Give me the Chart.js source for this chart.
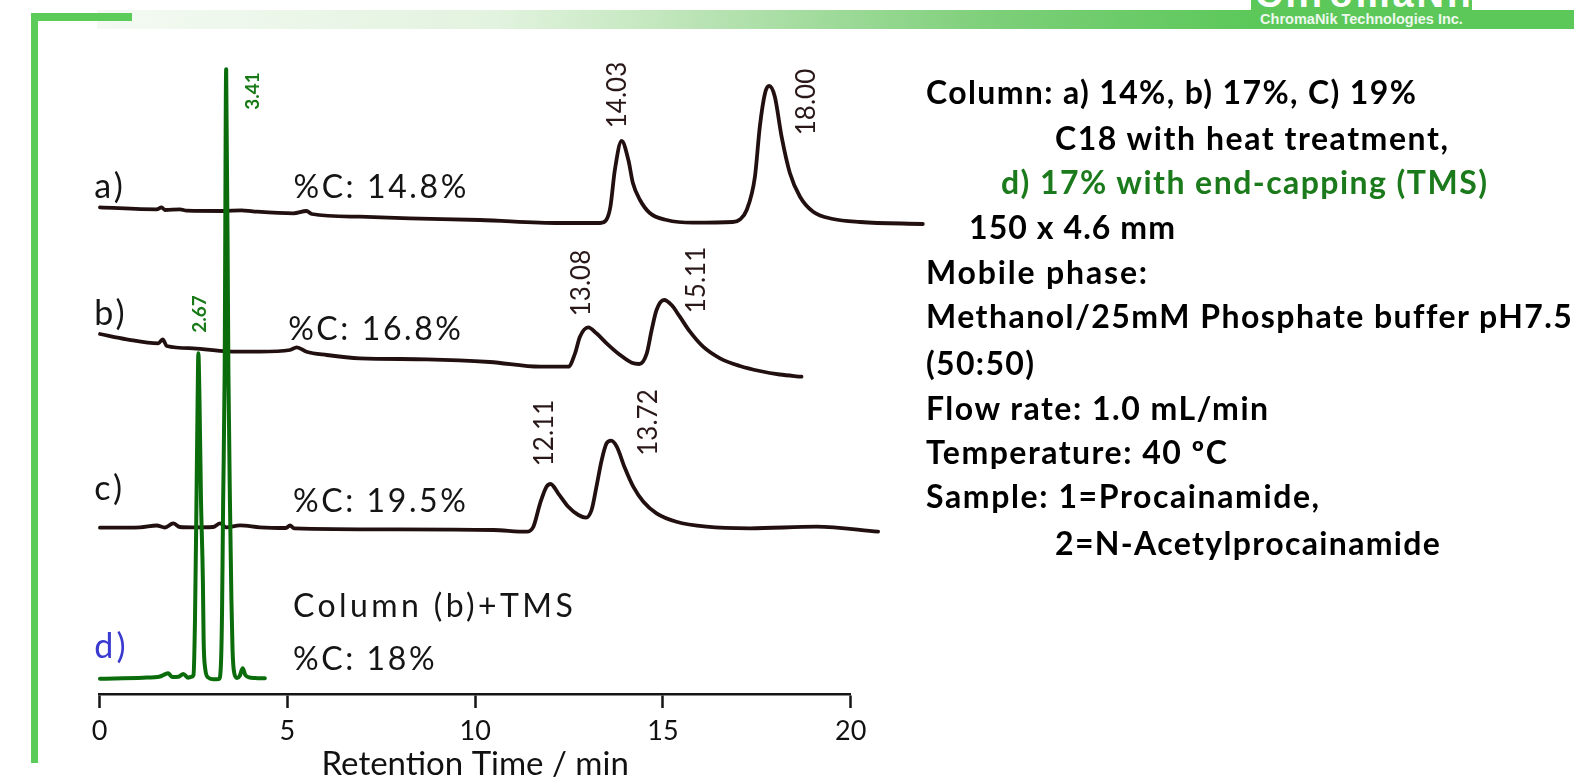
<!DOCTYPE html>
<html>
<head>
<meta charset="utf-8">
<title>Retention of procainamide on C18 columns</title>
<script src="https://cdn.jsdelivr.net/npm/chart.js@4.4.1/dist/chart.umd.min.js"></script>
<style>
  html, body { margin: 0; padding: 0; background: #fff; }
  body { width: 1574px; height: 781px; position: relative; overflow: hidden; font-family: Lato, sans-serif; }
  .grad { position: absolute; left: 97px; top: 10px; width: 1477px; height: 19px;
    background: linear-gradient(to right, #f4faf3 0%, #e2f3df 27%, #c6e8c1 37%, #b9e3b4 41%, #7ccf78 61%, #5cc85a 78%, #5cc85a 100%); }
  .bar-h { position: absolute; left: 31px; top: 13px; width: 101px; height: 8px; background: #5bcb59; }
  .bar-v { position: absolute; left: 31px; top: 13px; width: 7px; height: 750px; background: #5bcb59; }
  .logo { position: absolute; left: 1251px; top: 0; width: 221px; height: 29px; background: #5cc85a; overflow: hidden; }
  .logo .big { position: absolute; left: 4px; top: -27px; font: bold 38px "Liberation Sans", Arial, sans-serif; color: #fff; letter-spacing: 3px; }
  .logo .small { position: absolute; left: 0; top: 11px; width: 221px; text-align: center; font: bold 14.5px/17px "Liberation Sans", Arial, sans-serif; color: #eef8ee; }
  #wrap { position: absolute; left: 0; top: 0; }
  .info div { position: absolute; white-space: nowrap; font: 700 32px/28px Lato, sans-serif; color: #000; }
</style>
</head>
<body>
<div class="grad"></div>
<div class="bar-h"></div>
<div class="bar-v"></div>
<div class="logo"><span class="big">ChromaNik</span><span class="small">ChromaNik Technologies Inc.</span></div>

<div id="wrap"><canvas id="chart" width="1574" height="781"></canvas></div>

<!-- data-w: width of each line in the original slide, used to fit the spacing -->
<div class="info">
  <div data-w="490" style="left:926px;top:78px">Column: a) 14%, b) 17%, C) 19%</div>
  <div data-w="393" style="left:1055px;top:124px">C18 with heat treatment,</div>
  <div data-w="486" style="left:1001px;top:168px;color:#1b7a1b">d) 17% with end-capping (TMS)</div>
  <div data-w="206" style="left:969px;top:213px">150 x 4.6 mm</div>
  <div data-w="221" style="left:926px;top:258px">Mobile phase:</div>
  <div data-w="645" style="left:926px;top:302px">Methanol/25mM Phosphate buffer pH7.5</div>
  <div data-w="108" style="left:926px;top:349px">(50:50)</div>
  <div data-w="342" style="left:926px;top:394px">Flow rate: 1.0 mL/min</div>
  <div data-w="301" style="left:926px;top:438px">Temperature: 40 ºC</div>
  <div data-w="393" style="left:926px;top:482px">Sample: 1=Procainamide,</div>
  <div data-w="385" style="left:1055px;top:529px">2=N-Acetylprocainamide</div>
</div>

<script>
// retention time (min) and detector signal, traces stacked with an offset
const aTime = [0.01, 1.52, 1.65, 1.74, 2.14, 2.32, 3.29, 3.78, 4.08, 5.16, 5.51, 5.65, 6.93, 8.26, 10.13, 12.26, 13.33, 13.49, 13.60, 13.72, 13.90, 14.08, 14.20, 14.39, 14.65, 15.10, 15.80, 16.86, 17.05, 17.23, 17.45, 17.58, 17.72, 17.83, 17.98, 18.16, 18.38, 18.65, 19.00, 19.53, 20.25, 21.92];
const aSignal = [486.7, 484.7, 486.7, 484, 484.7, 483.3, 483, 483.7, 482.7, 480.7, 483, 480, 477.3, 475.7, 474, 471, 471, 474, 487, 524, 553, 534, 511, 494, 481, 474, 471.3, 472, 474.5, 484, 517.3, 567.3, 601, 608, 597.3, 557.3, 521, 497.3, 482.3, 475, 472, 470];

const bTime = [0.01, 0.72, 1.56, 1.68, 1.79, 2.49, 3.38, 4.27, 5.07, 5.25, 5.51, 6.05, 6.93, 8.71, 10.39, 11.73, 12.48, 12.66, 12.79, 13.01, 13.23, 13.50, 13.86, 14.17, 14.37, 14.57, 14.70, 14.83, 15.03, 15.23, 15.45, 15.72, 16.07, 16.52, 17.05, 17.58, 18.11, 18.69];
const bSignal = [360, 354.7, 350.7, 354.5, 348, 345.7, 342.7, 342.3, 344, 346.7, 342.3, 339, 335.7, 334.7, 332, 327.3, 327.3, 340.7, 357.3, 366.7, 360.7, 350.7, 339, 331.3, 330, 340.7, 364, 384, 394, 389, 377.3, 362.3, 347.3, 335.7, 328, 323, 319.5, 317.3];

const cTime = [0.01, 1.08, 1.52, 1.74, 1.96, 2.14, 2.49, 3.02, 3.21, 3.37, 3.74, 4.27, 4.96, 5.07, 5.18, 7.82, 10.48, 11.37, 11.55, 11.73, 11.90, 12.01, 12.21, 12.48, 12.75, 12.95, 13.10, 13.23, 13.37, 13.50, 13.62, 13.77, 13.99, 14.21, 14.48, 14.83, 15.36, 16.16, 17.32, 19.09, 20.73];
const cSignal = [166.3, 166.7, 168.5, 166.5, 170.7, 167, 166.7, 167, 170.7, 166.7, 168.7, 166.7, 166, 168.5, 165.7, 164.7, 164, 162.3, 167.3, 190.7, 207.3, 210, 200.7, 187.3, 179, 176.3, 184, 207.3, 234, 250.7, 253.3, 247.3, 225.7, 207.3, 192.3, 180.7, 172.3, 167.3, 165.7, 167.3, 162.3];

const dTime = [0.01, 1.16, 1.61, 1.70, 1.83, 1.93, 2.10, 2.23, 2.36, 2.45, 2.50, 2.54, 2.58, 2.61, 2.63, 2.66, 2.70, 2.75, 2.77, 2.81, 2.89, 3.02, 3.18, 3.23, 3.26, 3.29, 3.33, 3.37, 3.43, 3.47, 3.51, 3.54, 3.58, 3.66, 3.73, 3.81, 3.88, 3.98, 4.14, 4.40];
const dSignal = [15.3, 16.3, 17.5, 19, 20.7, 17, 17.3, 20, 16.3, 17.3, 19, 74, 194, 294, 340.7, 294, 194, 114, 54, 26, 16.5, 14.7, 15, 29, 81, 194, 321, 624.7, 321, 194, 94, 44, 22, 16, 18, 25.7, 19, 16.7, 16, 15.7];

const xTickValues = [0, 5, 10, 15, 20];

const brown = '#221010';
const green = '#0b6c0b';
const traceFont = '400 32px Lato';
const peakFont = '400 26px Lato';
const greenFont = 'bold 19px Lato';

// text drawn on the plot, anchored in data units (time, signal)
const notes = [
    { text: 'a)', t: -0.14, v: 496, font: '400 34px Lato', color: '#151515', spacing: '3px' },
    { text: 'b)', t: -0.14, v: 369, font: '400 34px Lato', color: '#151515', spacing: '3px' },
    { text: 'c)', t: -0.14, v: 194, font: '400 34px Lato', color: '#151515', spacing: '3px' },
    { text: 'd)', t: -0.14, v: 36, font: '400 34px Lato', color: '#3a3ad0', spacing: '3px' },
    { text: '%C: 14.8%', t: 5.16, v: 496, font: traceFont, color: '#151515', spacing: '2.6px' },
    { text: '%C: 16.8%', t: 5.02, v: 354, font: traceFont, color: '#151515', spacing: '2.6px' },
    { text: '%C: 19.5%', t: 5.15, v: 182.3, font: traceFont, color: '#151515', spacing: '2.6px' },
    { text: 'Column (b)+TMS', t: 5.15, v: 77, font: traceFont, color: '#151515', spacing: '3.4px' },
    { text: '%C: 18%', t: 5.15, v: 24, font: traceFont, color: '#151515', spacing: '2.6px' },
    { text: '14.03', t: 13.79, v: 599, font: peakFont, color: '#2a1818', rotate: true },
    { text: '18.00', t: 18.83, v: 592, font: peakFont, color: '#2a1818', rotate: true },
    { text: '13.08', t: 12.84, v: 411, font: peakFont, color: '#2a1818', rotate: true },
    { text: '15.11', t: 15.90, v: 414, font: peakFont, color: '#2a1818', rotate: true },
    { text: '12.11', t: 11.86, v: 261, font: peakFont, color: '#2a1818', rotate: true },
    { text: '13.72', t: 14.61, v: 271.5, font: peakFont, color: '#2a1818', rotate: true },
    { text: '3.41', t: 4.07, v: 603, font: greenFont, color: '#177a17', rotate: true },
    { text: '2.67', t: 2.665, v: 380, font: greenFont, color: '#177a17', rotate: true }
];

function toPoints(ts, vs) {
    return ts.map((t, i) => ({ x: t, y: vs[i] }));
}

// spread each info line so it spans the same width as in the slide
function fitInfoLines() {
    document.querySelectorAll('.info div').forEach(el => {
        el.style.letterSpacing = '0px';
        const natural = el.getBoundingClientRect().width;
        const n = el.textContent.length;
        el.style.letterSpacing = ((+el.dataset.w - natural) / (n - 1)).toFixed(2) + 'px';
    });
}
fitInfoLines();
if (document.fonts) document.fonts.ready.then(fitInfoLines);

const notesPlugin = {
    id: 'notes',
    afterDatasetsDraw(chart) {
        const { ctx, scales: { x, y } } = chart;
        notes.forEach(n => {
            ctx.save();
            ctx.font = n.font;
            ctx.fillStyle = n.color;
            ctx.letterSpacing = n.spacing || '0px';
            ctx.translate(x.getPixelForValue(n.t), y.getPixelForValue(n.v));
            if (n.rotate) {
                ctx.rotate(-Math.PI / 2);
                ctx.textAlign = 'center';
                ctx.textBaseline = 'middle';
            } else {
                ctx.textAlign = 'left';
                ctx.textBaseline = 'alphabetic';
            }
            ctx.fillText(n.text, 0, 0);
            ctx.restore();
        });
    }
};

const lineStyle = { pointRadius: 0, borderWidth: 3.8, cubicInterpolationMode: 'monotone', clip: false, borderJoinStyle: 'round', borderCapStyle: 'round' };

new Chart(document.getElementById('chart'), {
    type: 'line',
    data: {
        datasets: [
            { label: 'a) %C 14.8%', data: toPoints(aTime, aSignal), borderColor: brown, order: 1, ...lineStyle },
            { label: 'b) %C 16.8%', data: toPoints(bTime, bSignal), borderColor: brown, order: 1, ...lineStyle },
            { label: 'c) %C 19.5%', data: toPoints(cTime, cSignal), borderColor: brown, order: 1, ...lineStyle },
            { label: 'd) Column (b)+TMS', data: toPoints(dTime, dSignal), borderColor: green, order: 0, ...lineStyle, borderWidth: 4 }
        ]
    },
    options: {
        responsive: false,
        animation: false,
        layout: { padding: { left: 99.6, right: 723.3, top: 54, bottom: 0 } },
        plugins: { legend: { display: false }, tooltip: { enabled: false } },
        scales: {
            x: {
                type: 'linear',
                min: 0,
                afterDataLimits: s => { s.max = 20; },
                afterBuildTicks: s => { s.ticks = xTickValues.map(v => ({ value: v })); },
                ticks: { stepSize: 5, padding: 10, maxRotation: 0, color: '#111', font: { family: 'Lato', weight: '400', size: 27, lineHeight: 1 } },
                grid: { drawOnChartArea: false, drawTicks: true, tickLength: 14, tickWidth: 2.5, tickColor: '#151515' },
                border: { display: true, color: '#151515', width: 2.5 },
                title: { display: true, text: 'Retention Time / min', color: '#111', font: { family: 'Lato', weight: '400', size: 33, lineHeight: 1 }, padding: { top: -7.5, bottom: 0.5 } }
            },
            y: { display: false, min: 0, max: 640 }
        }
    },
    plugins: [notesPlugin]
});
</script>
</body>
</html>
